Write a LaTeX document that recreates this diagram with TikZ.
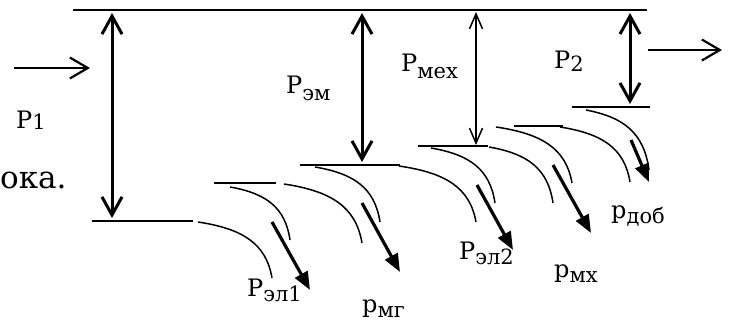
\documentclass[tikz,border=0pt]{standalone}
\usepackage{fontspec}
\setmainfont{DejaVu Serif}
\newfontfamily\labfont{DejaVu Serif}
\usetikzlibrary{arrows.meta}
\newcommand\lsub[2][5pt]{\raisebox{-#1}{\fontsize{21}{21}\selectfont #2}}

\begin{document}
\begin{tikzpicture}[
        x=1pt, y=-1pt,
        rim/.style={line width=1.6pt},
        stepline/.style={line width=1.8pt},
        losscurve/.style={line width=1.5pt},
        flowarrow/.style={line width=3pt, {Straight Barb[length=18pt,width=20pt]}-{Straight Barb[length=18pt,width=20pt]}, shorten <=3pt, shorten >=3pt},
        thinflow/.style={line width=1.5pt, {Straight Barb[length=15pt,width=13pt]}-{Straight Barb[length=15pt,width=13pt]}, shorten <=2pt, shorten >=1pt},
        inout/.style={line width=2.2pt, -{Straight Barb[length=18pt,width=21pt]}},
        lossarrow/.style={line width=3.2pt, -{Triangle[length=18pt,width=14pt]}},
        lab/.style={inner sep=0pt, anchor=base west, font=\labfont\fontsize{24}{24}\selectfont},
    ]
    \useasboundingbox (0,0) rectangle (733,324);

    % top line and the steps
    \draw[rim] (73,10) coordinate (topL) -- (647,10) coordinate (topR);
    \draw[stepline] (92,221) coordinate (s1L) -- (193,221) coordinate (s1R);
    \draw[stepline] (214,183) coordinate (s2L) -- (276,183) coordinate (s2R);
    \draw[stepline] (300,165) coordinate (s3L) -- (400,165) coordinate (s3R);
    \draw[stepline] (418,146) coordinate (s4L) -- (488,146) coordinate (s4R);
    \draw[stepline] (514,126) coordinate (s5L) -- (563,126) coordinate (s5R);
    \draw[stepline] (572,107) coordinate (s6L) -- (650,107) coordinate (s6R);

    % power levels
    \coordinate (p1t) at (112,10);  \coordinate (p1b) at (112,221);
    \coordinate (emt) at (362,10);  \coordinate (emb) at (362,165);
    \coordinate (mxt) at (476,10);  \coordinate (mxb) at (476,146);
    \coordinate (p2t) at (630,10);  \coordinate (p2b) at (630,107);
    \draw[flowarrow] (p1t) -- (p1b);
    \draw[flowarrow] (emt) -- (emb);
    \draw[thinflow] (mxt) -- (mxb);
    \draw[flowarrow] (p2t) -- (p2b);

    % input and output
    \coordinate (in1) at (14,68);   \coordinate (in2) at (90,68);
    \coordinate (out1) at (648,50); \coordinate (out2) at (722,50);
    \draw[inout] (in1) -- (in2);
    \draw[inout] (out1) -- (out2);

    % losses
    \foreach \sx/\sy/\ex/\ey in {198/222/272/278, 230/187/290/240, 284/184/362/243,
        315/167/380/222, 399/166/476/222, 431/148/495/203, 489/147/553/203,
        496/127/572/183, 560/127/630/182, 586/110/649/170}
        \draw[losscurve] (\sx,\sy) .. controls ({\sx+0.6*(\ex-\sx)},{\sy+0.12*(\ey-\sy)})
            and ({\ex-0.08*(\ex-\sx)},{\ey-0.62*(\ey-\sy)}) .. (\ex,\ey);
    \foreach \sx/\sy/\ex/\ey in {272/222/310/290, 362/203/400/272, 477/185/513/250,
        553/165/591/233, 631/140/649/182}
        \draw[lossarrow] (\sx,\sy) -- (\ex,\ey);

    % labels
    \node[lab] (P1) at (16,128) {P\lsub[1pt]{1}};
    \node[lab] (Pem) at (286,93) {P\lsub[7pt]{эм}};
    \node[lab] (Pmex) at (401,71) {P\lsub[7pt]{мех}};
    \node[lab] (P2) at (554,68) {P\lsub[3pt]{2}};
    \node[lab] (Pel1) at (247,296) {P\lsub{эл1}};
    \node[lab] (pmg) at (362,312) {p\lsub{мг}};
    \node[lab] (Pel2) at (459,259) {P\lsub{эл2}};
    \node[lab] (pmx) at (554,277) {p\lsub{мх}};
    \node[lab] (pdob) at (611,218) {p\lsub{доб}};
    \node[lab, font=\labfont\fontsize{31}{31}\selectfont] (tail) at (0,188) {ока.};
\end{tikzpicture}
\end{document}
